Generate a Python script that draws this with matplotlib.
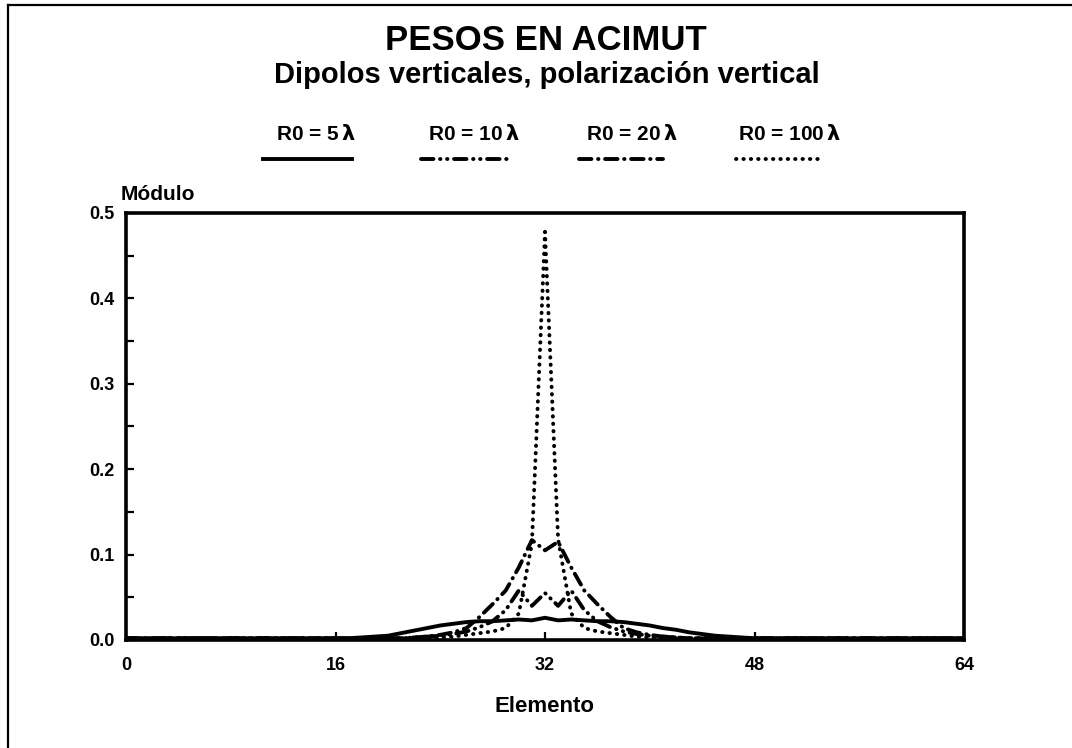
import matplotlib
matplotlib.use("Agg")
import matplotlib.pyplot as plt
from matplotlib.lines import Line2D
import numpy as np

plt.rcParams["font.family"] = ["Liberation Sans", "DejaVu Sans"]

# datos (modulo de los pesos por elemento)
elementos = np.arange(0, 65)

r0_5 = [0.002] * 18 + [
    0.003, 0.004, 0.005, 0.008, 0.011, 0.014, 0.017, 0.019, 0.021, 0.022,
    0.022, 0.023, 0.024, 0.023, 0.026, 0.023, 0.024, 0.023, 0.022, 0.022,
    0.021, 0.019, 0.017, 0.014, 0.012, 0.009, 0.007, 0.005, 0.004, 0.003,
] + [0.002] * 17

r0_10 = [0.002] * 22 + [
    0.003, 0.004, 0.005, 0.007, 0.010, 0.015, 0.022, 0.035, 0.058, 0.040,
    0.055, 0.040, 0.058, 0.035, 0.022, 0.015, 0.010, 0.007, 0.005, 0.004,
    0.003,
] + [0.002] * 22

r0_20 = [0.002] * 22 + [
    0.003, 0.004, 0.006, 0.009, 0.014, 0.027, 0.042, 0.058, 0.085, 0.117,
    0.105, 0.115, 0.085, 0.058, 0.042, 0.027, 0.014, 0.009, 0.006, 0.004,
    0.003,
] + [0.002] * 22

r0_100 = [0.002] * 24 + [
    0.003, 0.004, 0.006, 0.008, 0.010, 0.014, 0.031, 0.113, 0.478, 0.118,
    0.031, 0.014, 0.010, 0.008, 0.006, 0.004, 0.003,
] + [0.002] * 24

etiquetas = ["R0 = 5", "R0 = 10", "R0 = 20", "R0 = 100"]
series = [r0_5, r0_10, r0_20, r0_100]
estilos = [
    "-",
    (0, (3.2, 1.7, 0.1, 1.7, 0.1, 1.7)),
    (0, (3.2, 1.7, 0.1, 1.7)),
    (0, (0.1, 1.8)),
]

W, H = 1072, 748


def fx(px):
    return px / W


def fy(py):
    return 1 - py / H


fig = plt.figure(figsize=(W / 100, H / 100), dpi=100)
ax = fig.add_axes([fx(126), fy(640), fx(964) - fx(126), fy(213) - fy(640)])

for vals, ls in zip(series, estilos):
    ax.plot(elementos, vals, color="black", lw=2.8, linestyle=ls,
            dash_capstyle="round", solid_capstyle="butt")

ax.set_xlim(0, 64)
ax.set_ylim(0, 0.5)
ax.set_xticks([0, 16, 32, 48, 64])
ax.set_yticks(np.arange(0, 0.51, 0.1))
ax.set_yticks(np.arange(0, 0.51, 0.05), minor=True)
ax.set_yticklabels([f"{v:.1f}" for v in np.arange(0, 0.51, 0.1)])
for lab in ax.get_xticklabels() + ax.get_yticklabels():
    lab.set_fontweight("bold")
    lab.set_fontsize(13)
ax.tick_params(axis="both", which="both", direction="in", length=6, width=1.6)
ax.tick_params(axis="x", pad=12)
ax.tick_params(axis="y", pad=8)
for sp in ax.spines.values():
    sp.set_linewidth(2.6)

ax.set_xlabel("Elemento", fontsize=16, fontweight="bold", labelpad=16)
fig.text(fx(121), fy(195), "Módulo", fontsize=15, fontweight="bold",
         ha="left", va="center")

# titulos
fig.text(fx(546), fy(41), "PESOS EN ACIMUT", fontsize=25, fontweight="bold",
         ha="center", va="center")
fig.text(fx(547), fy(75), "Dipolos verticales, polarización vertical",
         fontsize=21, fontweight="bold", ha="center", va="center")

# leyenda manual
cx_lab = [316, 474, 632, 790]
seg = [(263, 352), (421, 510), (579, 663), (736, 819)]
for lab, cx, (x0, x1), ls in zip(etiquetas, cx_lab, seg, estilos):
    fig.text(fx(cx), fy(134), lab + r"$\,\mathbf{\lambda}$", fontsize=15,
             fontweight="bold", ha="center", va="center")
    fig.add_artist(Line2D([fx(x0), fx(x1)], [fy(159), fy(159)],
                          transform=fig.transFigure, color="black", lw=2.8,
                          linestyle=ls, dash_capstyle="round"))

# marco de la hoja
fig.add_artist(Line2D([fx(8), fx(8)], [fy(5), 0], transform=fig.transFigure,
                      color="black", lw=1.6))
fig.add_artist(Line2D([fx(8), 1], [fy(5), fy(5)], transform=fig.transFigure,
                      color="black", lw=1.6))

fig.savefig("out.png", dpi=100)
